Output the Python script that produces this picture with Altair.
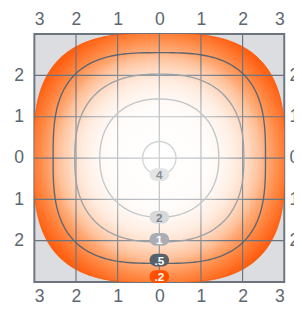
import numpy as np
import pandas as pd
import altair as alt

# ---- values ----
levels = ["4", "2", "1", ".5", ".2"]
radii = [0.40, 1.43, 2.03, 2.55, 3.02]          # contour half-width (data units)
exponents = [2.0, 2.2, 2.5, 3.0, 3.0]           # superellipse exponent of each contour
label_y = [-0.40, -1.43, -1.97, -2.47, -2.87]   # pill positions on x = 0
line_colors = ["#cfd1d3", "#c3c6c9", "#9da2a7", "#5b6670", "#ff5a0a"]
pill_fill = ["#e3e4e5", "#d6d8da", "#aaaeb3", "#56616b", "#ff5000"]
pill_text = ["#8b9096", "#7c8187", "#ffffff", "#ffffff", "#ffffff"]
x_ticks = [-3, -2, -1, 0, 1, 2, 3]
y_ticks = [-2, -1, 0, 1, 2]
grid_vals = [-2, -1, 0, 1, 2]

DOM = [-3, 3]
xs = alt.Scale(domain=DOM, nice=False, zero=False)
ys = alt.Scale(domain=DOM, nice=False, zero=False)


def X(field, **kw):
    return alt.X(field, scale=xs, axis=None, **kw)


def Y(field, **kw):
    return alt.Y(field, scale=ys, axis=None, **kw)


def superellipse(r, n, m=240):
    t = np.linspace(0, 2 * np.pi, m)
    c, s = np.cos(t), np.sin(t)
    return r * np.sign(c) * np.abs(c) ** (2 / n), r * np.sign(s) * np.abs(s) ** (2 / n)


# contour lines
rows = []
for lev, r, n in zip(levels[:4], radii[:4], exponents[:4]):
    x, y = superellipse(r, n)
    for i, (a, b) in enumerate(zip(x, y)):
        rows.append({"level": lev, "x": a, "y": b, "i": i})
contours = pd.DataFrame(rows)

# outer filled shape (level .2)
t = np.linspace(0, np.pi, 400)
c, s = np.cos(t), np.sin(t)
R, N = radii[4], exponents[4]
shape = pd.DataFrame({
    "x": R * np.sign(c) * np.abs(c) ** (2 / N),
    "top": R * np.abs(s) ** (2 / N),
})
shape["bot"] = -shape["top"]

fill_grad = {
    "gradient": "radial", "x1": 0.5, "y1": 0.5, "x2": 0.5, "y2": 0.5,
    "r1": 0, "r2": 0.56,
    "stops": [
        {"offset": 0.0, "color": "#ffffff"},
        {"offset": 0.35, "color": "#fffaf6"},
        {"offset": 0.55, "color": "#ffe2cf"},
        {"offset": 0.72, "color": "#ffbb90"},
        {"offset": 0.85, "color": "#ff8a46"},
        {"offset": 0.95, "color": "#ff681c"},
        {"offset": 1.0, "color": "#ff5a0a"},
    ],
}
white_grad = {
    "gradient": "radial", "x1": 0.5, "y1": 0.5, "x2": 0.5, "y2": 0.5,
    "r1": 0, "r2": 0.5,
    "stops": [
        {"offset": 0.0, "color": "rgba(255,255,255,0.65)"},
        {"offset": 0.5, "color": "rgba(255,255,255,0.5)"},
        {"offset": 0.75, "color": "rgba(255,255,255,0.15)"},
        {"offset": 0.85, "color": "rgba(255,255,255,0)"},
        {"offset": 1.0, "color": "rgba(255,255,255,0)"},
    ],
}

base = alt.Chart(shape)

area = base.mark_area(clip=True, stroke="#ff5a0a", strokeWidth=1, color=fill_grad).encode(
    x=X("x:Q"), y=Y("top:Q"), y2="bot:Q"
)
overlay = base.mark_area(clip=True, color=white_grad).encode(
    x=X("x:Q"), y=Y("top:Q"), y2="bot:Q"
)

grid_df = pd.DataFrame({"v": grid_vals})
vgrid = alt.Chart(grid_df).mark_rule(color="#6c757e", strokeWidth=1.2).encode(x=X("v:Q"))
hgrid = alt.Chart(grid_df).mark_rule(color="#6c757e", strokeWidth=1.2).encode(y=Y("v:Q"))

lines = alt.Chart(contours).mark_line(strokeWidth=1.4, clip=True).encode(
    x=X("x:Q"),
    y=Y("y:Q"),
    order="i:Q",
    detail="level:N",
    color=alt.Color("level:N", scale=alt.Scale(domain=levels[:4], range=line_colors[:4]), legend=None),
)

pills_df = pd.DataFrame({"label": levels, "y": label_y, "x": [0] * 5,
                         "fill": pill_fill, "tc": pill_text})
pills = alt.Chart(pills_df).mark_rect(width=20, height=13, cornerRadius=6.5).encode(
    x=X("x:Q"), y=Y("y:Q"), color=alt.Color("fill:N", scale=None),
)
texts = alt.Chart(pills_df).mark_text(fontSize=12, fontWeight="bold", font="Liberation Sans",
                                      baseline="middle", dy=0.5).encode(
    x=X("x:Q"), y=Y("y:Q"), text="label:N", color=alt.Color("tc:N", scale=None),
)

axis_common = dict(ticks=False, domain=False, grid=False, labelFontSize=18,
                   labelFont="Liberation Sans", labelColor="#5d6770", title=None,
                   labelExpr="abs(datum.value)")
pt = pd.DataFrame({"v": [0]})
axes_x = alt.Chart(pt).mark_point(opacity=0).encode(
    x=alt.X("v:Q", scale=xs, axis=alt.Axis(orient="bottom", values=x_ticks, labelPadding=6, **axis_common)),
)
axes_x2 = alt.Chart(pt).mark_point(opacity=0).encode(
    x=alt.X("v:Q", scale=xs, axis=alt.Axis(orient="top", values=x_ticks, labelPadding=6, **axis_common)),
)
axes_y = alt.Chart(pt).mark_point(opacity=0).encode(
    y=alt.Y("v:Q", scale=ys, axis=alt.Axis(orient="left", values=y_ticks, labelPadding=11, **axis_common)),
)
axes_y2 = alt.Chart(pt).mark_point(opacity=0).encode(
    y=alt.Y("v:Q", scale=ys, axis=alt.Axis(orient="right", values=y_ticks, labelPadding=5, **axis_common)),
)

chart = alt.layer(
    area, vgrid, hgrid, overlay, lines, pills, texts, axes_x, axes_x2, axes_y, axes_y2
).resolve_axis(x="independent", y="independent").properties(
    width=256, height=254,
    autosize=alt.AutoSizeParams(type="none"),
    padding={"left": 27, "top": 23, "right": 10, "bottom": 27},
).configure_view(fill="#dcdde0", stroke="#6c757e", strokeWidth=2)

chart.save("out.html", embed_options={"renderer": "svg", "actions": False})
